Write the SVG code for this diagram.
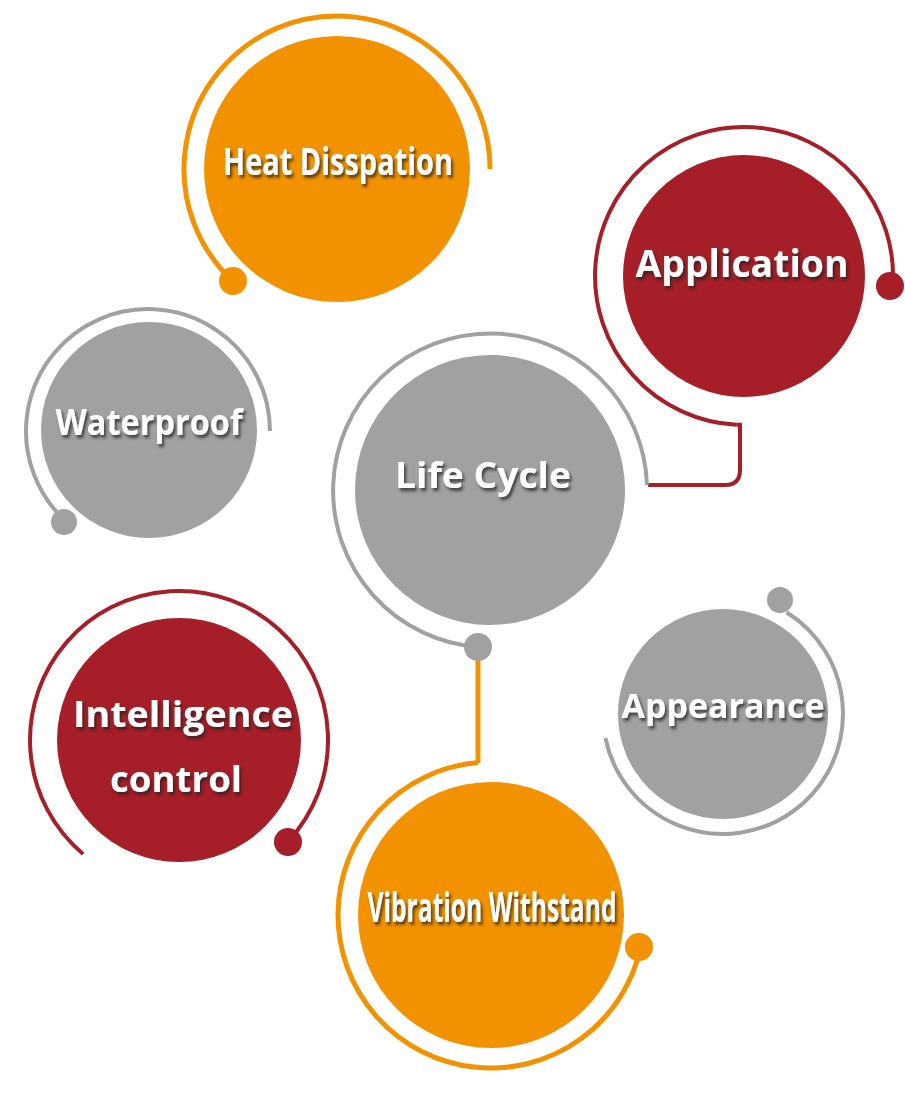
<svg xmlns="http://www.w3.org/2000/svg" width="905" height="1097" viewBox="0 0 905 1097">
<defs>
<filter id="sh" x="-10%" y="-30%" width="130%" height="170%">
<feDropShadow dx="2" dy="3" stdDeviation="1.5" flood-color="#222" flood-opacity="0.75"/>
</filter>
<style>
.o{fill:#F39200}.r{fill:#A61E27}.g{fill:#A0A1A0}
.so{fill:none;stroke:#F39200;stroke-width:5}
.sr{fill:none;stroke:#A61E27;stroke-width:4}
.sg{fill:none;stroke:#A0A1A0;stroke-width:4}
text{font-family:"Open Sans","DejaVu Sans",sans-serif;font-weight:bold;fill:#fff;text-anchor:middle;filter:url(#sh)}
</style>
</defs>
<rect width="905" height="1097" fill="#fff"/>
<g id="connectors">
<path class="sr" d="M736.2,424.8 L740,424.8 L740,470 Q740,485 725,485 L648,485"/>
<path class="so" d="M478,647 L478,763"/>
</g>
<g id="heat">
<path class="so" d="M490,169 A153,153 0 1 0 232.7,280.9"/>
<circle class="o" cx="233" cy="281" r="14"/>
<circle class="o" cx="337" cy="169" r="133"/>
<text x="338" y="175" font-size="38" textLength="230" lengthAdjust="spacingAndGlyphs">Heat Disspation</text>
</g>
<g id="application">
<path class="sr" d="M892.7,286.1 A149,149 0 1 0 736.2,424.8"/>
<circle class="r" cx="890" cy="286" r="14"/>
<circle class="r" cx="744" cy="276" r="121"/>
<text x="742" y="277" font-size="37" textLength="213" lengthAdjust="spacingAndGlyphs">Application</text>
</g>
<g id="waterproof">
<path class="sg" d="M270,431 A122,122 0 1 0 65.2,520.7"/>
<circle class="g" cx="64" cy="522" r="13"/>
<circle class="g" cx="149" cy="430" r="108"/>
<text x="149" y="435" font-size="35" textLength="187" lengthAdjust="spacingAndGlyphs">Waterproof</text>
</g>
<g id="lifecycle">
<path class="sg" d="M647,485 A157,157 0 1 0 478,647"/>
<circle class="g" cx="478" cy="647" r="14"/>
<circle class="g" cx="490" cy="490" r="135"/>
<text x="483" y="488" font-size="36" textLength="176" lengthAdjust="spacingAndGlyphs">Life Cycle</text>
</g>
<g id="intelligence">
<path class="sr" d="M83.1,854 A149,149 0 1 1 287.8,841.8"/>
<circle class="r" cx="288" cy="842" r="14"/>
<circle class="r" cx="179" cy="740" r="122"/>
<text x="183" y="727" font-size="36" textLength="220" lengthAdjust="spacingAndGlyphs">Intelligence</text>
<text x="176" y="792" font-size="36" textLength="132" lengthAdjust="spacingAndGlyphs">control</text>
</g>
<g id="appearance">
<path class="sg" d="M605.4,738 A120,120 0 1 0 786.6,612.2"/>
<circle class="g" cx="780" cy="600" r="13"/>
<circle class="g" cx="723" cy="714" r="105"/>
<text x="723" y="718" font-size="34" textLength="203" lengthAdjust="spacingAndGlyphs">Appearance</text>
</g>
<g id="vibration">
<path class="so" d="M478,762.6 A153,153 0 1 0 640.7,946.8"/>
<circle class="o" cx="639" cy="947" r="14"/>
<circle class="o" cx="491" cy="915" r="133"/>
<text x="492" y="922" font-size="42" textLength="249" lengthAdjust="spacingAndGlyphs">Vibration Withstand</text>
</g>
</svg>
